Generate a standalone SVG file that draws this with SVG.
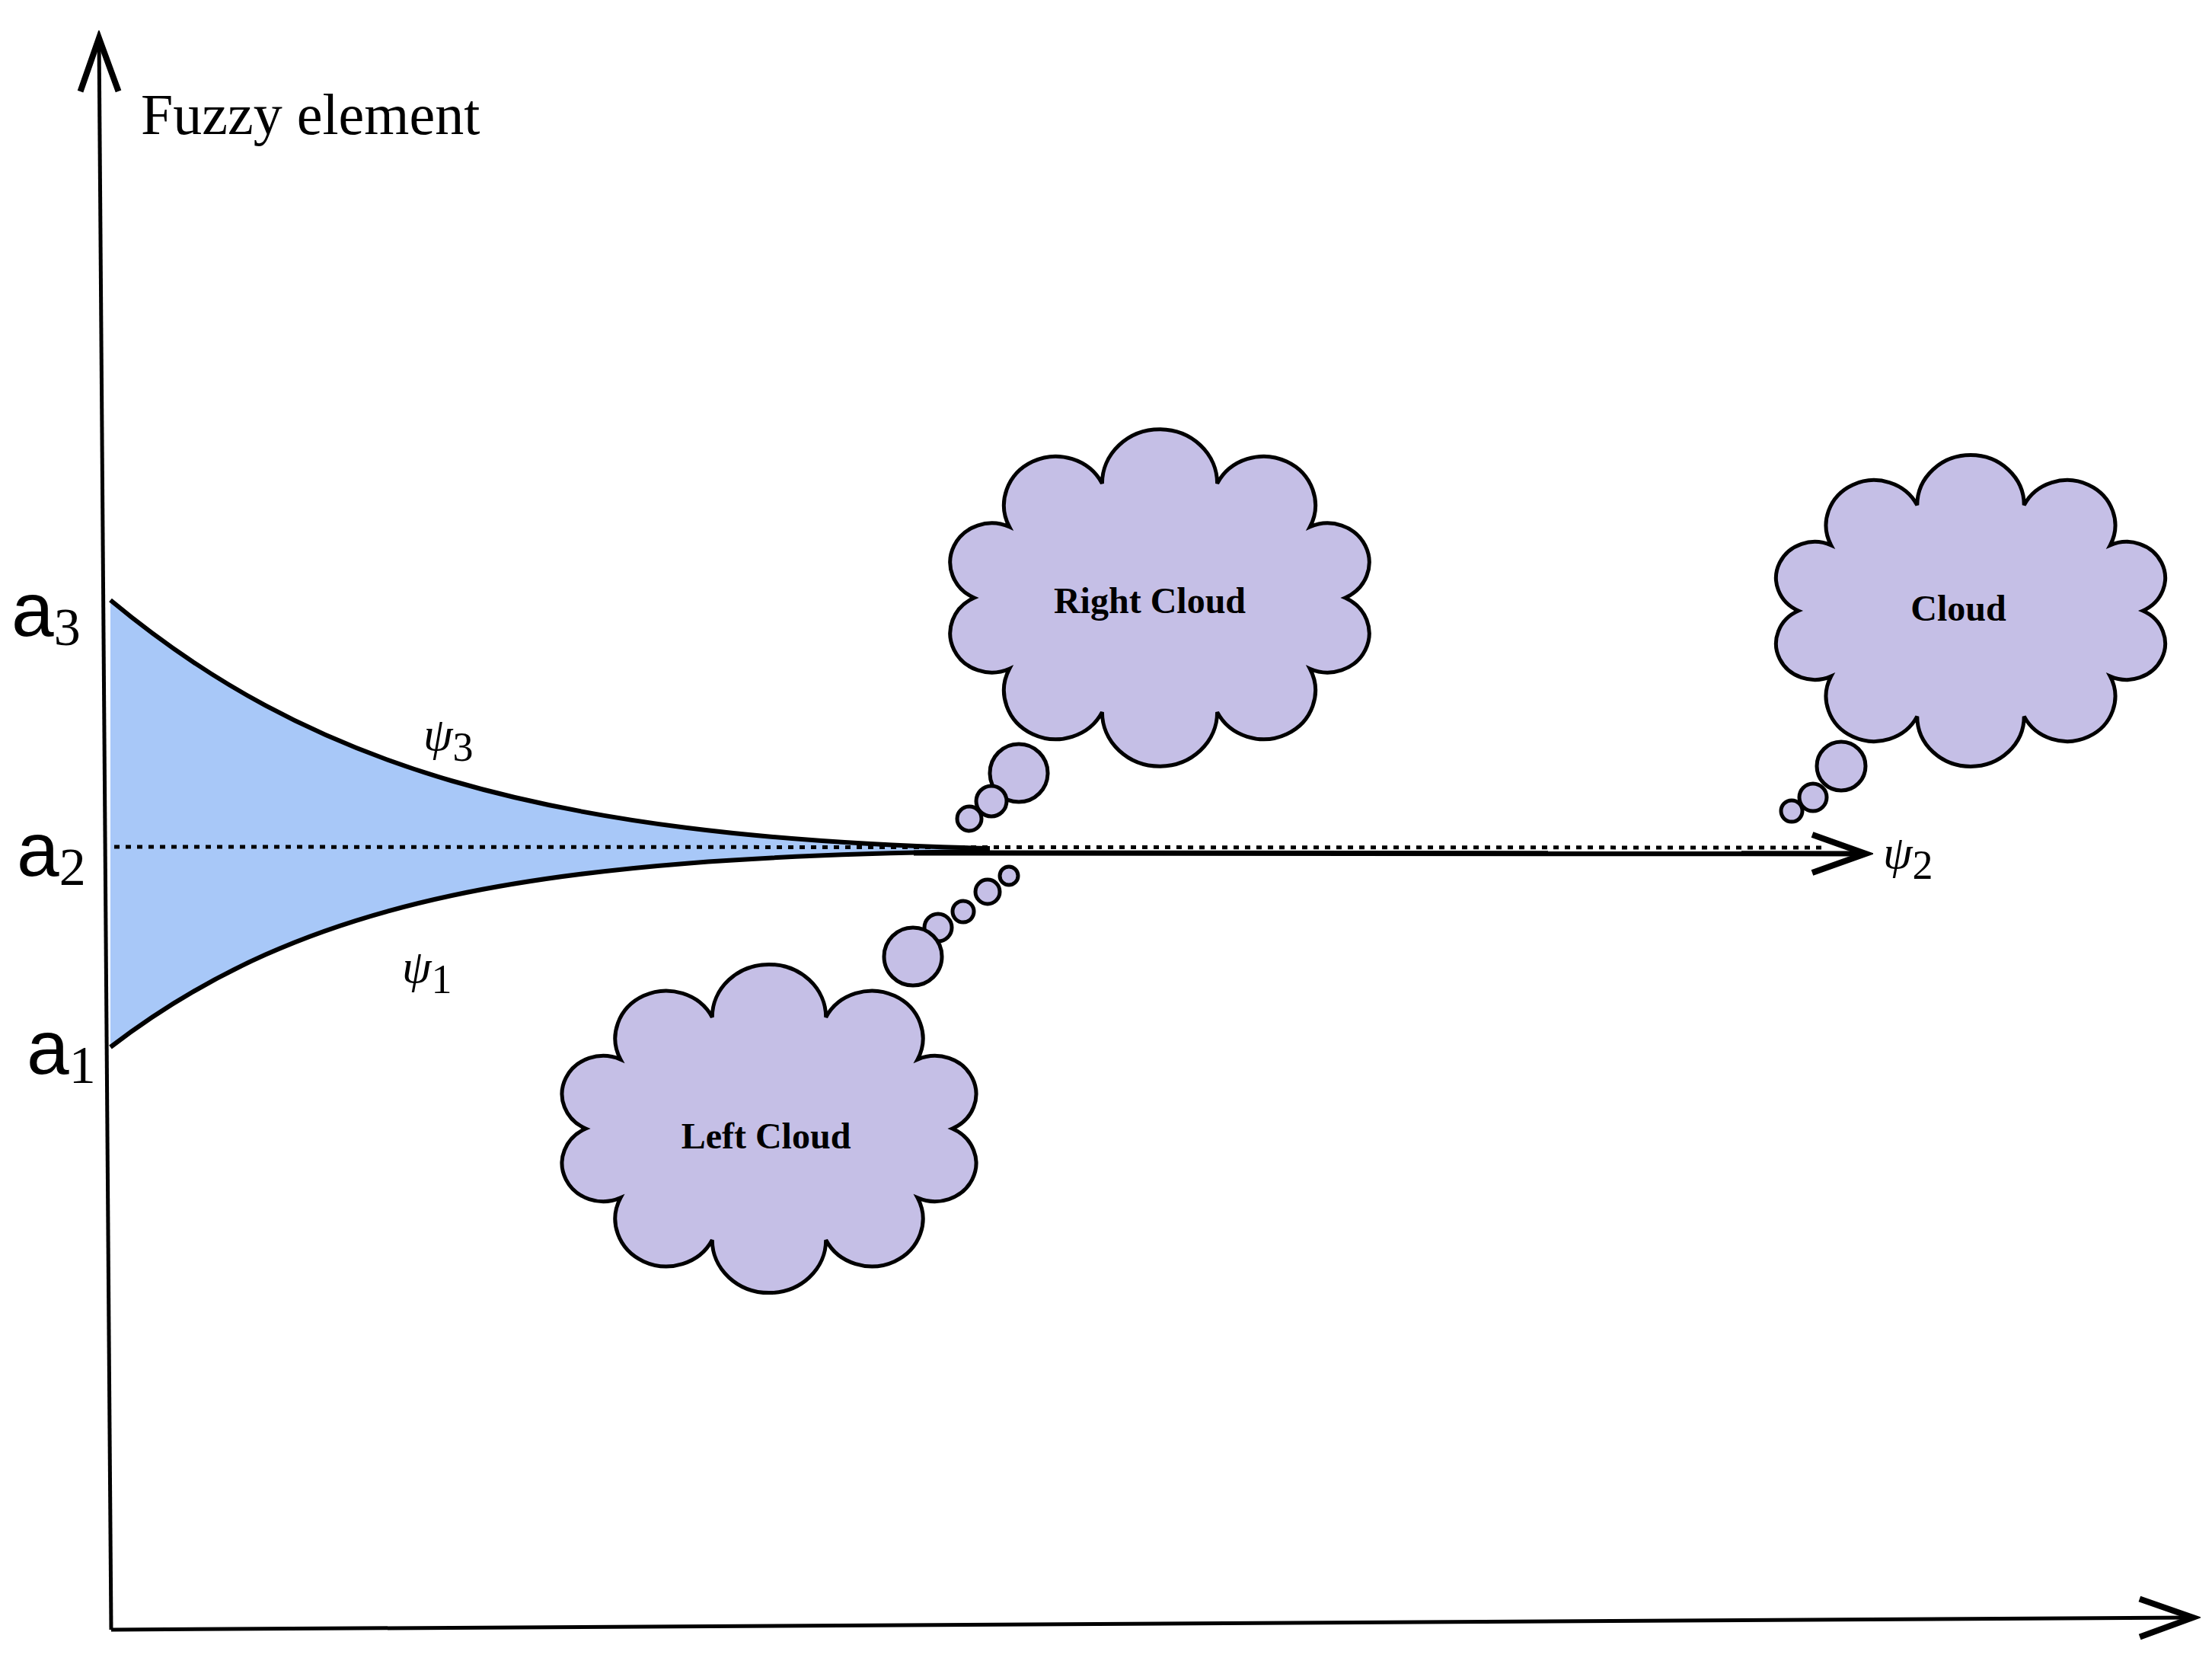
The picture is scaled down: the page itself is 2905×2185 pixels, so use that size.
<svg xmlns="http://www.w3.org/2000/svg" width="2905" height="2185" viewBox="0 0 2905 2185">
<style>
.ax{stroke:#000;stroke-width:5;fill:none}
.cl{fill:#c5bfe6;stroke:#000;stroke-width:5}
.ct{font-family:"Liberation Serif",serif;font-weight:bold;font-size:48px;text-anchor:middle}
.sym{font-family:"Liberation Serif",serif;font-style:italic;font-size:62px}
.a{font-family:"Liberation Sans",sans-serif;font-size:100px}
</style>
<defs>
<path id="cloud" d="M290 0 A1 1 0 0 1 235 118 A1 1 0 0 1 90 190 A1 1 0 0 1 -90 190 A1 1 0 0 1 -235 118 A1 1 0 0 1 -290 0 A1 1 0 0 1 -235 -118 A1 1 0 0 1 -90 -190 A1 1 0 0 1 90 -190 A1 1 0 0 1 235 -118 A1 1 0 0 1 290 0 Z" vector-effect="non-scaling-stroke"/>
<marker id="arr" markerWidth="14" markerHeight="14" refX="12" refY="7" orient="auto" markerUnits="userSpaceOnUse" viewBox="0 0 14 14"><path d="M0 0 L13 7 L0 14" fill="none" stroke="#000" stroke-width="2"/></marker>
<marker id="arr2" markerWidth="90" markerHeight="60" refX="80" refY="30" orient="auto" markerUnits="userSpaceOnUse"><path d="M10 5 L80 30 L10 55" fill="none" stroke="#000" stroke-width="8"/></marker>
</defs>
<rect width="2905" height="2185" fill="#fff"/>
<g id="axes">
<line class="ax" x1="146" y1="2140" x2="130" y2="50" marker-end="url(#arr2)"/>
<line class="ax" x1="146" y1="2140" x2="2880" y2="2124" marker-end="url(#arr2)"/>
<text x="185" y="176" font-family="Liberation Serif,serif" font-size="76">Fuzzy element</text>
</g>
<g id="band">
<path d="M145 788 C400 1000 700 1100 1300 1114 L1300 1118 C700 1125 400 1180 145 1375 Z" fill="#a8c8f8"/>
<path d="M145 788 C400 1000 700 1100 1300 1114" fill="none" stroke="#000" stroke-width="6"/>
<path d="M145 1375 C400 1180 700 1125 1300 1118" fill="none" stroke="#000" stroke-width="6"/>
<line x1="150" y1="1112" x2="2400" y2="1113" stroke="#000" stroke-width="5" stroke-dasharray="7 8"/>
<line x1="1200" y1="1120" x2="2450" y2="1121" stroke="#000" stroke-width="7" marker-end="url(#arr2)"/>
<text class="a" x="15" y="835">a<tspan font-family="Liberation Serif,serif" font-size="70" dy="12">3</tspan></text>
<text class="a" x="22" y="1150">a<tspan font-family="Liberation Serif,serif" font-size="70" dy="12">2</tspan></text>
<text class="a" x="35" y="1410">a<tspan font-family="Liberation Serif,serif" font-size="70" dy="12">1</tspan></text>
<text class="sym" x="556" y="985">ψ<tspan font-style="normal" font-size="54" dy="14">3</tspan></text>
<text class="sym" x="528" y="1290">ψ<tspan font-style="normal" font-size="54" dy="14">1</tspan></text>
<text class="sym" x="2473" y="1140">ψ<tspan font-style="normal" font-size="54" dy="14">2</tspan></text>
</g>
<g id="right-cloud">
<use href="#cloud" class="cl" transform="translate(1523,785) scale(0.84,0.79)"/>
<circle class="cl" cx="1338" cy="1015" r="38"/>
<circle class="cl" cx="1302" cy="1052" r="20"/>
<circle class="cl" cx="1273" cy="1075" r="16"/>
<text class="ct" x="1510" y="805">Right Cloud</text>
</g>
<g id="cloud-node">
<use href="#cloud" class="cl" transform="translate(2588,802) scale(0.78,0.73)"/>
<circle class="cl" cx="2418" cy="1006" r="32"/>
<circle class="cl" cx="2381" cy="1047" r="18"/>
<circle class="cl" cx="2353" cy="1065" r="14"/>
<text class="ct" x="2572" y="815">Cloud</text>
</g>
<g id="left-cloud">
<use href="#cloud" class="cl" transform="translate(1010,1482) scale(0.83,0.77)"/>
<circle class="cl" cx="1325" cy="1150" r="12"/>
<circle class="cl" cx="1297" cy="1171" r="16"/>
<circle class="cl" cx="1265" cy="1197" r="14"/>
<circle class="cl" cx="1232" cy="1218" r="18"/>
<circle class="cl" cx="1199" cy="1256" r="38"/>
<text class="ct" x="1006" y="1508">Left Cloud</text>
</g>
</svg>
